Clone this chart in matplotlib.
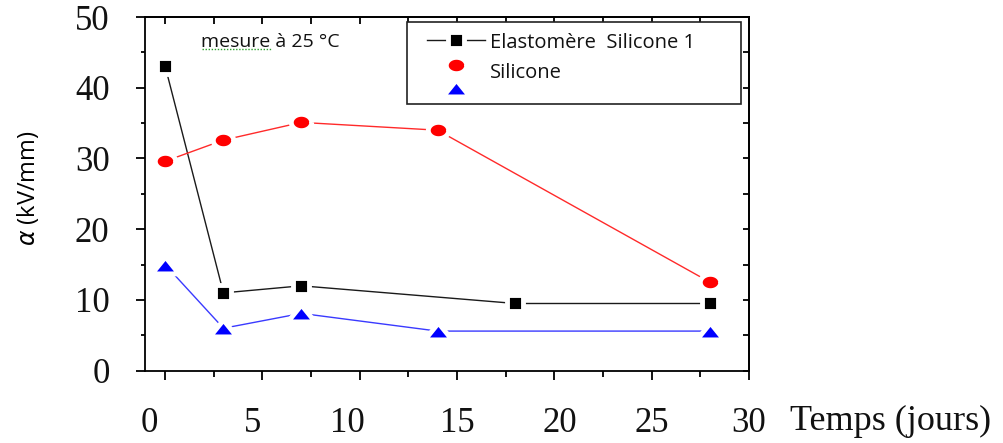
import numpy as np
import matplotlib
matplotlib.use("Agg")
import matplotlib.pyplot as plt
from matplotlib.transforms import ScaledTranslation
from matplotlib.patches import Rectangle
from matplotlib.lines import Line2D

# ---------------- data ----------------
days_elast = [0, 3, 7, 18, 28]
alpha_elast = [43.1, 11.0, 12.0, 9.5, 9.5]

days_sil = [0, 3, 7, 14, 28]
alpha_sil = [29.6, 32.6, 35.1, 34.0, 12.5]

days_tri = [0, 3, 7, 14, 28]
alpha_tri = [15.0, 6.0, 8.1, 5.6, 5.6]

x_ticks = [0, 5, 10, 15, 20, 25, 30]
y_ticks = [0, 10, 20, 30, 40, 50]
x_label = "Temps (jours)"
y_label = r"$\alpha$ (kV/mm)"
legend_labels = ["Elastomère  Silicone 1", "Silicone", ""]
note = "mesure à 25 °C"

# ---------------- style ----------------
SERIF = ["Liberation Serif", "DejaVu Serif"]
SANS = ["Open Sans", "DejaVu Sans"]

# custom markers (horizontally stretched like the original)
t = np.linspace(0, 2 * np.pi, 60)
ellipse = np.column_stack([0.5 * np.cos(t), 0.40 * np.sin(t)])
tri_h = 0.62
triangle = np.array([[-0.5, -tri_h / 2], [0.5, -tri_h / 2], [0.0, tri_h / 2], [-0.5, -tri_h / 2]])

fig = plt.figure(figsize=(10.04, 4.43), dpi=100)
W, H = 1004, 443
L, R, T, B = 145, 749, 17, 370.7
ax = fig.add_axes([L / W, (H - B) / H, (R - L) / W, (B - T) / H])

MEW = 3.5
ax.plot(days_elast, alpha_elast, color="#1a1a1a", lw=1.0, marker="s", ms=11.6,
        mfc="black", mec="white", mew=MEW, zorder=3)
ax.plot(days_sil, alpha_sil, color="#ff2a2a", lw=1.0, marker=ellipse, ms=14.7,
        mfc="#ff0000", mec="white", mew=MEW, zorder=3)
ax.plot(days_tri, alpha_tri, color="#3a3aff", lw=1.0, marker=triangle, ms=19.5,
        mfc="#0000ff", mec="white", mew=MEW, zorder=3)

ax.set_xlim(-1.03, 29.95)
ax.set_ylim(0, 50)

for sp in ax.spines.values():
    sp.set_linewidth(1.3)

ax.set_xticks(x_ticks)
ax.set_xticks(np.arange(2.5, 30, 5), minor=True)
ax.set_yticks(y_ticks)
ax.set_yticks(np.arange(5, 50, 10), minor=True)
ax.tick_params(axis="x", which="major", direction="out", length=6.5, width=1.3, pad=19.5,
               labelsize=25)
ax.tick_params(axis="x", which="minor", direction="out", length=4.3, width=1.3)
ax.tick_params(axis="y", which="major", direction="out", length=6.5, width=1.3, pad=19,
               labelsize=25)
ax.tick_params(axis="y", which="minor", direction="out", length=2.6, width=1.3)
for lab in ax.get_xticklabels() + ax.get_yticklabels():
    lab.set_fontfamily(SERIF)
    lab.set_color("#111111")

# irregular horizontal offsets of x tick labels (pixels)
x_offsets = [-16, -10, -12, 0, 5, 0, 0]
for lab, dx in zip(ax.get_xticklabels(), x_offsets):
    lab.set_transform(lab.get_transform() + ScaledTranslation(dx / 100, 0, fig.dpi_scale_trans))

# inward ticks on top and right
secx = ax.secondary_xaxis("top")
secx.set_xticks(np.arange(0, 30.01, 2.5))
secx.tick_params(direction="in", length=5, width=1.3, labeltop=False)
secx.spines["top"].set_linewidth(1.3)
secy = ax.secondary_yaxis("right")
secy.set_yticks(np.arange(0, 50.01, 5))
secy.tick_params(direction="in", length=4.3, width=1.3, labelright=False)
secy.spines["right"].set_linewidth(1.3)

# axis labels
ax.set_xlabel(x_label, fontsize=26, fontfamily=SERIF, ha="left", va="center", color="#111111")
ax.xaxis.set_label_coords((790 - L) / (R - L), (B - 421) / (B - T))
ax.set_ylabel(y_label, fontsize=17, fontfamily=["Open Sans", "DejaVu Sans"], va="center")
ax.yaxis.set_label_coords((28 - L) / (R - L), (B - 188) / (B - T))


def fx(px):
    return (px - L) / (R - L)


def fy(py):
    return (B - py) / (B - T)


# annotation
ax.text(fx(201), fy(42), note, transform=ax.transAxes, fontsize=14, fontfamily=SANS,
        ha="left", va="center", color="#111111")
ax.plot([fx(202), fx(271)], [fy(49), fy(49)], transform=ax.transAxes,
        color="#2ca02c", lw=1.0, ls=(0, (1, 1.2)), clip_on=False)

# manual legend
ax.add_patch(Rectangle((fx(407), fy(104)), fx(741) - fx(407), fy(22) - fy(104),
                       transform=ax.transAxes, fill=True, facecolor="white",
                       edgecolor="#222222", lw=1.2, zorder=5))
ax.add_line(Line2D([fx(427), fx(485)], [fy(40), fy(40)], transform=ax.transAxes,
                   color="#1a1a1a", lw=1.0, zorder=6))
ax.add_line(Line2D([fx(456)], [fy(40)], transform=ax.transAxes, ls="none",
                   marker="s", ms=11.6, mfc="black", mec="white", mew=MEW, zorder=7))
ax.add_line(Line2D([fx(456)], [fy(65)], transform=ax.transAxes, ls="none",
                   marker=ellipse, ms=14.7, mfc="#ff0000", mec="white", mew=MEW, zorder=7))
ax.add_line(Line2D([fx(456)], [fy(88)], transform=ax.transAxes, ls="none",
                   marker=triangle, ms=19.5, mfc="#0000ff", mec="white", mew=MEW, zorder=7))
ax.text(fx(490), fy(43), legend_labels[0], transform=ax.transAxes, fontsize=14.5,
        fontfamily=SANS, ha="left", va="center", color="#111111", zorder=8)
ax.text(fx(490), fy(73), legend_labels[1], transform=ax.transAxes, fontsize=14.5,
        fontfamily=SANS, ha="left", va="center", color="#111111", zorder=8)

fig.savefig("out.png", dpi=100)
